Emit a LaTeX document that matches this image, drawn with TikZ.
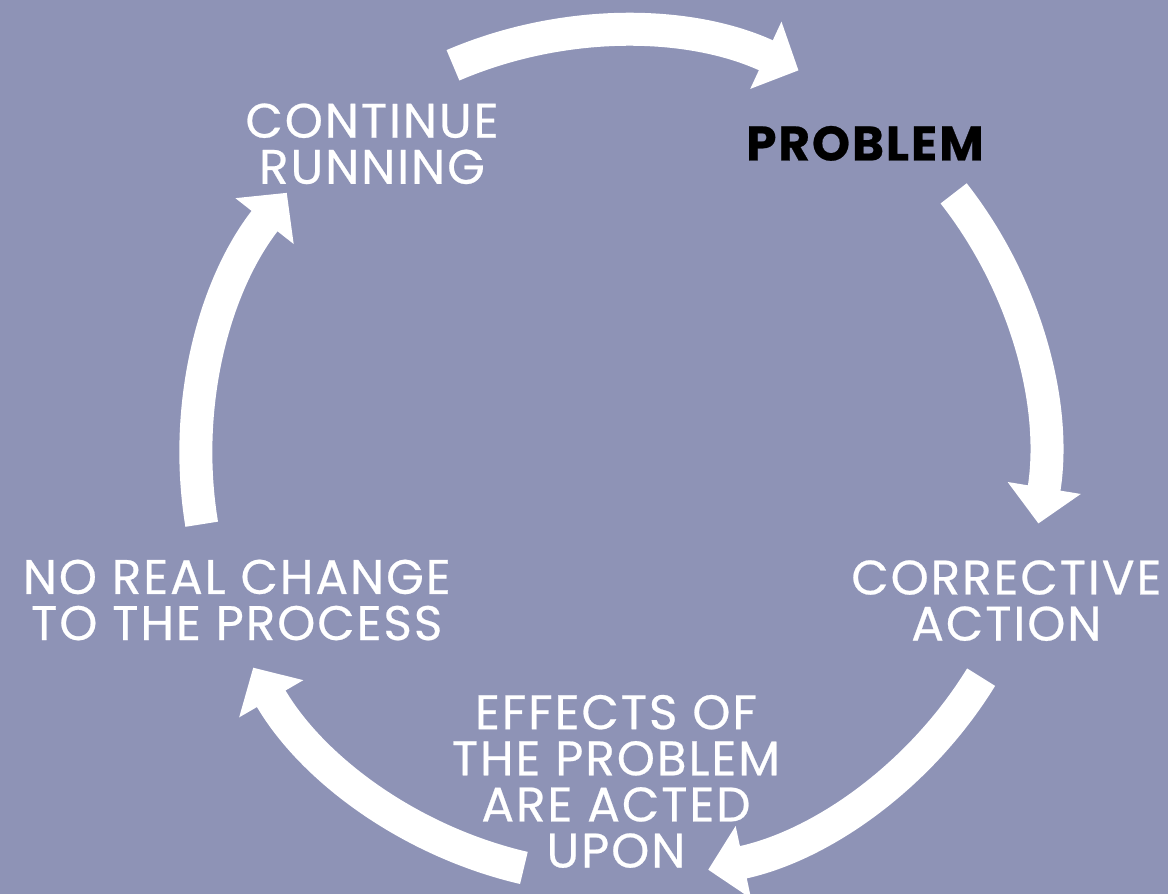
\documentclass[tikz,border=0pt]{standalone}
\usepackage{fontspec}
\setmainfont{Poppins}[LetterSpace=4, FakeBold=0.5]
\usetikzlibrary{arrows.meta}
\definecolor{bgblue}{HTML}{8E93B6}

\begin{document}
\begin{tikzpicture}[auto,
    stage/.style ={text=white, align=center, font=\fontsize{34.5pt}{32.8pt}\selectfont},
    cyclearrow/.style ={white, line width=0.825cm, -{Triangle[width=1.8cm,length=0.9cm]}}]
   \useasboundingbox (-15.5,-10.975) rectangle (13.7,11.375);
   \fill[bgblue] (-15.5,-10.975) rectangle (13.7,11.375);
   \node[stage] (run) at (-6.2,7.78) {CONTINUE\\RUNNING};
   \node[stage, text=black, font=\fontsize{34.5pt}{32.8pt}\selectfont\bfseries] (prob) at (6.125,7.79) {PROBLEM};
   \node[stage] (corr) at (9.66,-3.64) {CORRECTIVE\\ACTION};
   \node[stage] (eff) at (-0.1,-8.16) {EFFECTS OF\\THE PROBLEM\\ARE ACTED\\UPON};
   \node[stage] (noch) at (-9.58,-3.625) {NO REAL CHANGE\\TO THE PROCESS};
   \coordinate (t1) at (113.2:10.6);
   \coordinate (t2) at (38.1:10.6);
   \coordinate (t3) at (-31.6:10.6);
   \coordinate (t4) at (-103.1:10.6);
   \coordinate (t5) at (189.4:10.6);
      \draw[cyclearrow] (t1) arc[start angle=113.2, end angle=65.1, radius=10.6];
      \draw[cyclearrow] (t2) arc[start angle=38.1, end angle=-9.3, radius=10.6];
   \draw[cyclearrow] (t3) arc[start angle=-31.6, end angle=-78, radius=10.6];
   \draw[cyclearrow] (t4) arc[start angle=-103.1, end angle=-149.9, radius=10.6];
   \draw[cyclearrow] (t5) arc[start angle=189.4, end angle=141.8, radius=10.6];
 \end{tikzpicture}
\end{document}
